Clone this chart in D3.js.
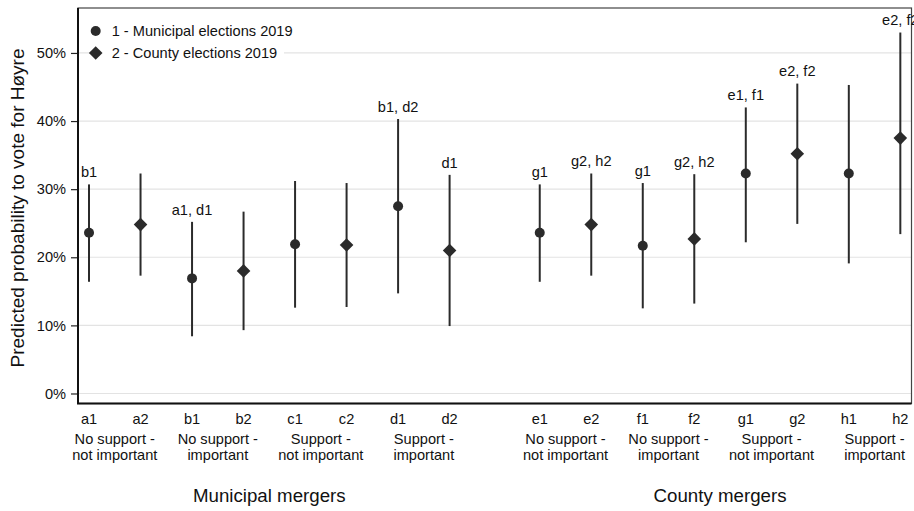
<!DOCTYPE html>
<html>
<head>
<meta charset="utf-8">
<script src="https://cdn.jsdelivr.net/npm/d3@7"></script>
<style>
  html, body { margin: 0; padding: 0; background: #fff; }
  svg text { font-family: "Liberation Sans", Arial, "DejaVu Sans", sans-serif; fill: #111; }
</style>
</head>
<body>
<svg id="chart" width="914" height="511"></svg>
<script>
// ---- data ----
const categories = ["a1","a2","b1","b2","c1","c2","d1","d2","e1","e2","f1","f2","g1","g2","h1","h2"];
const election   = [1,2,1,2,1,2,1,2,1,2,1,2,1,2,1,2]; // 1 = municipal, 2 = county
const estimate   = [23.6,24.8,16.9,18.0,21.9,21.8,27.5,21.0,23.6,24.8,21.7,22.7,32.3,35.2,32.3,37.5];
const lower      = [16.4,17.3, 8.4, 9.3,12.6,12.7,14.7, 9.9,16.4,17.3,12.5,13.2,22.2,24.9,19.1,23.4];
const upper      = [30.7,32.3,25.2,26.7,31.2,30.9,40.3,32.1,30.7,32.3,30.9,32.2,42.0,45.5,45.3,53.0];
const annotations = ["b1","","a1, d1","","","","b1, d2","d1","g1","g2, h2","g1","g2, h2","e1, f1","e2, f2","","e2, f2"];
const groupLabels = [["No support -","not important"],["No support -","important"],["Support -","not important"],["Support -","important"]];
const mergerTitles = ["Municipal mergers","County mergers"];
const legendLabels = ["1 - Municipal elections 2019","2 - County elections 2019"];
const yTicks = [0,10,20,30,40,50];
const yTitle = "Predicted probability to vote for Høyre";

// ---- layout ----
const svg = d3.select("#chart");
const L = 78, R = 911.5, T = 8, B = 403.5;
const gap = 0.75;
const pos = i => i + 1 + (i >= 8 ? gap : 0);
const x = d3.scaleLinear().domain([0.786, 16.967]).range([L, R]);
const y = d3.scaleLinear().domain([-1.47, 56.6]).range([B, T]);
const ink = "#2b2b2b";

// gridlines
svg.append("g").selectAll("line").data(yTicks).join("line")
  .attr("x1", L).attr("x2", R)
  .attr("y1", d => y(d)).attr("y2", d => y(d))
  .attr("stroke", "#e3e3e3").attr("stroke-width", 1.2);

// y axis ticks and labels
const yAxis = d3.axisLeft(y).tickValues(yTicks).tickFormat(d => d + "%").tickSize(7).tickPadding(5);
const ya = svg.append("g").attr("transform", `translate(${L},0)`).call(yAxis);
ya.select(".domain").remove();
ya.selectAll(".tick line").attr("stroke", "#222").attr("stroke-width", 1.2);
ya.selectAll(".tick text").style("font-size", "14.6px").attr("fill", "#111")
  .style("font-family", '"Liberation Sans", Arial, sans-serif');

// frame
svg.append("rect").attr("x", L).attr("y", T).attr("width", R - L).attr("height", B - T)
  .attr("fill", "none").attr("stroke", "#444").attr("stroke-width", 1.2);
svg.append("path").attr("d", `M${L},${T} V${B} H${R}`)
  .attr("fill", "none").attr("stroke", "#111").attr("stroke-width", 2);

// x tick labels (category codes)
svg.append("g").selectAll("text").data(categories).join("text")
  .attr("x", (d, i) => x(pos(i))).attr("y", 423.5)
  .attr("text-anchor", "middle").style("font-size", "14.6px").text(d => d);

// group labels
const groups = [];
for (let m = 0; m < 2; m++) for (let g = 0; g < 4; g++) groups.push({ i: m * 8 + g * 2, lines: groupLabels[g] });
const gl = svg.append("g").selectAll("text").data(groups).join("text")
  .attr("text-anchor", "middle").style("font-size", "14.6px")
  .attr("transform", d => `translate(${(x(pos(d.i)) + x(pos(d.i + 1))) / 2},0)`);
gl.selectAll("tspan").data(d => d.lines).join("tspan")
  .attr("x", 0).attr("y", (d, k) => 444 + k * 16).text(d => d);

// merger titles
svg.append("g").selectAll("text").data(mergerTitles).join("text")
  .attr("x", (d, m) => (x(pos(m * 8)) + x(pos(m * 8 + 7))) / 2).attr("y", 502)
  .attr("text-anchor", "middle").style("font-size", "18.7px").text(d => d);

// y title
svg.append("text").attr("transform", `translate(24,208) rotate(-90)`)
  .attr("text-anchor", "middle").style("font-size", "19px").text(yTitle);

// CI lines
const idx = d3.range(categories.length);
svg.append("g").selectAll("line").data(idx).join("line")
  .attr("x1", i => x(pos(i))).attr("x2", i => x(pos(i)))
  .attr("y1", i => y(lower[i])).attr("y2", i => y(upper[i]))
  .attr("stroke", ink).attr("stroke-width", 2);

// markers
const diamond = r => `M0,${-r}L${r},0L0,${r}L${-r},0Z`;
svg.append("g").selectAll("path").data(idx).join("path")
  .attr("transform", i => `translate(${x(pos(i))},${y(estimate[i])})`)
  .attr("d", i => election[i] === 1 ? d3.arc()({innerRadius:0, outerRadius:5, startAngle:0, endAngle:2*Math.PI}) : diamond(6.8))
  .attr("fill", ink);

// annotations
svg.append("g").selectAll("text").data(idx.filter(i => annotations[i])).join("text")
  .attr("x", i => x(pos(i))).attr("y", i => y(upper[i]) - 7.3)
  .attr("text-anchor", "middle").style("font-size", "14.6px").text(i => annotations[i]);

// legend
const lg = svg.append("g");
lg.append("rect").attr("x", 89).attr("y", 18).attr("width", 195).attr("height", 48).attr("fill", "#fff");
const li = lg.selectAll("g").data(legendLabels).join("g")
  .attr("transform", (d, k) => `translate(95.7,${31 + k * 22})`);
li.append("path").attr("d", (d, k) => k === 0 ? d3.arc()({innerRadius:0, outerRadius:5, startAngle:0, endAngle:2*Math.PI}) : diamond(6.8))
  .attr("fill", ink);
li.append("text").attr("x", 16).attr("y", 5.2).style("font-size", "14.6px").text(d => d);
</script>
</body>
</html>
